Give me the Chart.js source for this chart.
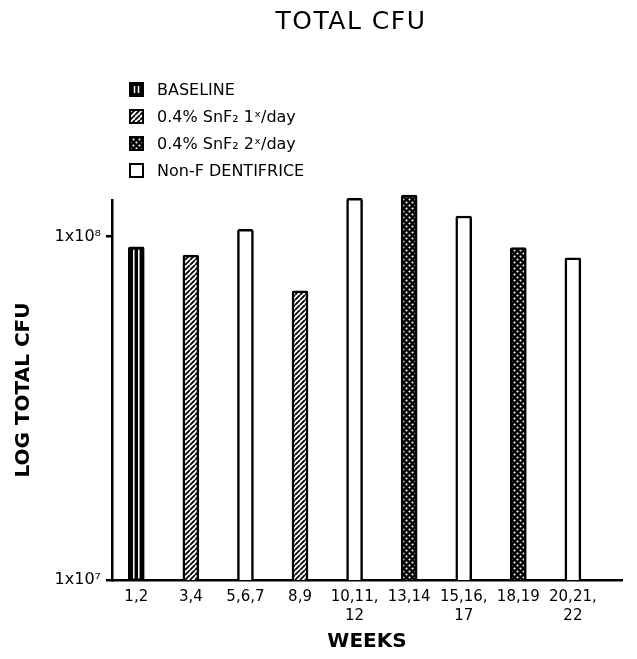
<!DOCTYPE html>
<html><head><meta charset="utf-8">
<style>html,body{margin:0;padding:0;background:#fff;}#wrap{width:637px;height:659px;}</style>
<script src="https://cdn.jsdelivr.net/npm/chart.js@4/dist/chart.umd.min.js"></script>
</head><body><div id="wrap"><canvas id="c" width="637" height="659"></canvas></div>
<script>
// ---- data ----
const weeks = [["1,2"],["3,4"],["5,6,7"],["8,9"],["10,11,","12"],["13,14"],["15,16,","17"],["18,19"],["20,21,","22"]];
const totalCfu = [9.35e7, 8.84e7, 1.05e8, 6.95e7, 1.294e8, 1.323e8, 1.149e8, 9.29e7, 8.68e7];
const treatment = [0, 1, 3, 1, 3, 2, 3, 2, 3];
const treatmentLabels = ["BASELINE", "0.4% SnF₂ 1ˣ/day", "0.4% SnF₂ 2ˣ/day", "Non-F DENTIFRICE"];
const yTicks = [1e7, 1e8];
const yTickLabels = ["1x10⁷", "1x10⁸"];
const chartTitle = "TOTAL CFU";

// ---- patterns ----
function makePattern(kind){
  const s = kind === 'hatch' ? 5 : 6;
  const c = document.createElement('canvas'); c.width = s; c.height = s;
  const g = c.getContext('2d');
  if (kind === 'hatch') {
    g.fillStyle = '#fff'; g.fillRect(0,0,s,s);
    g.strokeStyle = '#000'; g.lineWidth = 1.8;
    g.beginPath();
    for (const k of [-s, 0, s]) { g.moveTo(k, s); g.lineTo(k + s, 0); }
    g.stroke();
  } else {
    g.fillStyle = '#000'; g.fillRect(0,0,s,s);
    g.fillStyle = '#fff';
    for (const [px,py] of [[1.5,1.5],[4.5,4.5]]) { g.beginPath(); g.arc(px,py,1.05,0,Math.PI*2); g.fill(); }
  }
  return g.createPattern(c, 'repeat');
}
const ctx = document.getElementById('c').getContext('2d');
const fills = ['#000', makePattern('hatch'), makePattern('cross'), '#fff'];

const datasets = treatmentLabels.map((lab, t) => ({
  label: lab,
  data: totalCfu.map((v, i) => ({x: i, y: v})).filter((p, i) => treatment[i] === t),
  backgroundColor: fills[t],
  borderColor: '#000',
  borderWidth: 2.5,
  borderRadius: 2,
  borderSkipped: 'bottom',
  barThickness: 16,
  grouped: false,
  clip: false
}));

const FONT = 'DejaVu Sans';

const decorPlugin = {
  id: 'decor',
  afterDatasetsDraw(chart) {
    const c = chart.ctx;
    const meta = chart.getDatasetMeta(0);
    c.save();
    c.strokeStyle = '#fff'; c.lineWidth = 1.5;
    meta.data.forEach(el => {
      c.beginPath();
      for (const dx of [-2.5, 2.5]) { c.moveTo(el.x + dx, el.y + 3); c.lineTo(el.x + dx, el.base - 1.5); }
      c.stroke();
    });
    c.restore();
  },
  afterDraw(chart) {
    const c = chart.ctx;
    c.save();
    c.fillStyle = '#000';
    c.font = `25px "${FONT}"`;
    try { c.letterSpacing = '1.5px'; } catch(e) {}
    c.textAlign = 'center'; c.textBaseline = 'middle';
    c.fillText(chartTitle, 351, 22);
    try { c.letterSpacing = '0px'; } catch(e) {}
    const bx = 130, by0 = 83, step = 27, bs = 13;
    c.font = `16px "${FONT}"`;
    c.textAlign = 'left';
    chart.data.datasets.forEach((ds, i) => {
      const by = by0 + i * step;
      c.fillStyle = ds.backgroundColor;
      c.fillRect(bx, by, bs, bs);
      if (i === 0) {
        c.strokeStyle = '#fff'; c.lineWidth = 1.5;
        c.beginPath();
        c.moveTo(bx + bs/2 - 2, by + 3); c.lineTo(bx + bs/2 - 2, by + bs - 3);
        c.moveTo(bx + bs/2 + 2, by + 3); c.lineTo(bx + bs/2 + 2, by + bs - 3);
        c.stroke();
      }
      c.strokeStyle = '#000'; c.lineWidth = 2;
      c.strokeRect(bx, by, bs, bs);
      c.fillStyle = '#000';
      c.fillText(ds.label, 157, by + bs/2 + 1);
    });
    c.restore();
  }
};

new Chart(ctx, {
  type: 'bar',
  data: { datasets },
  options: {
    responsive: false,
    animation: false,
    devicePixelRatio: 1,
    layout: { padding: { top: 200, right: 15, left: 0, bottom: 0 } },
    plugins: { legend: { display: false }, title: { display: false }, tooltip: { enabled: false } },
    scales: {
      x: {
        type: 'linear', min: -0.445, max: 8.9, offset: false,
        afterBuildTicks: s => { s.ticks = weeks.map((_, i) => ({value: i})); },
        afterFit: s => { s.height = 79; },
        ticks: {
          callback: v => weeks[v], autoSkip: false, maxRotation: 0, minRotation: 0,
          color: '#000', font: { family: FONT, size: 15, lineHeight: 1.27 }, padding: 8
        },
        grid: { drawOnChartArea: false, drawTicks: false },
        border: { display: true, color: '#000', width: 2.5 },
        title: { display: true, text: 'WEEKS', color: '#000', font: { family: FONT, size: 20, weight: 'bold' }, padding: { top: 0, bottom: 5 } }
      },
      y: {
        type: 'logarithmic', min: 1e7, max: 1.279e8,
        afterBuildTicks: s => { s.ticks = yTicks.map(v => ({value: v})); },
        afterFit: s => { s.width = 112; },
        ticks: {
          callback: v => { const k = yTicks.indexOf(v); return k >= 0 ? yTickLabels[k] : ''; },
          autoSkip: false, color: '#000', font: { family: FONT, size: 16 }, padding: 5
        },
        grid: { drawOnChartArea: false, drawTicks: true, tickLength: 6, color: '#000', lineWidth: 2.5 },
        border: { display: true, color: '#000', width: 2.5 },
        title: { display: true, text: 'LOG TOTAL CFU', color: '#000', font: { family: FONT, size: 20, weight: 'bold' }, padding: { top: 12, bottom: 0 } }
      }
    }
  },
  plugins: [decorPlugin]
});
</script>
</body></html>
